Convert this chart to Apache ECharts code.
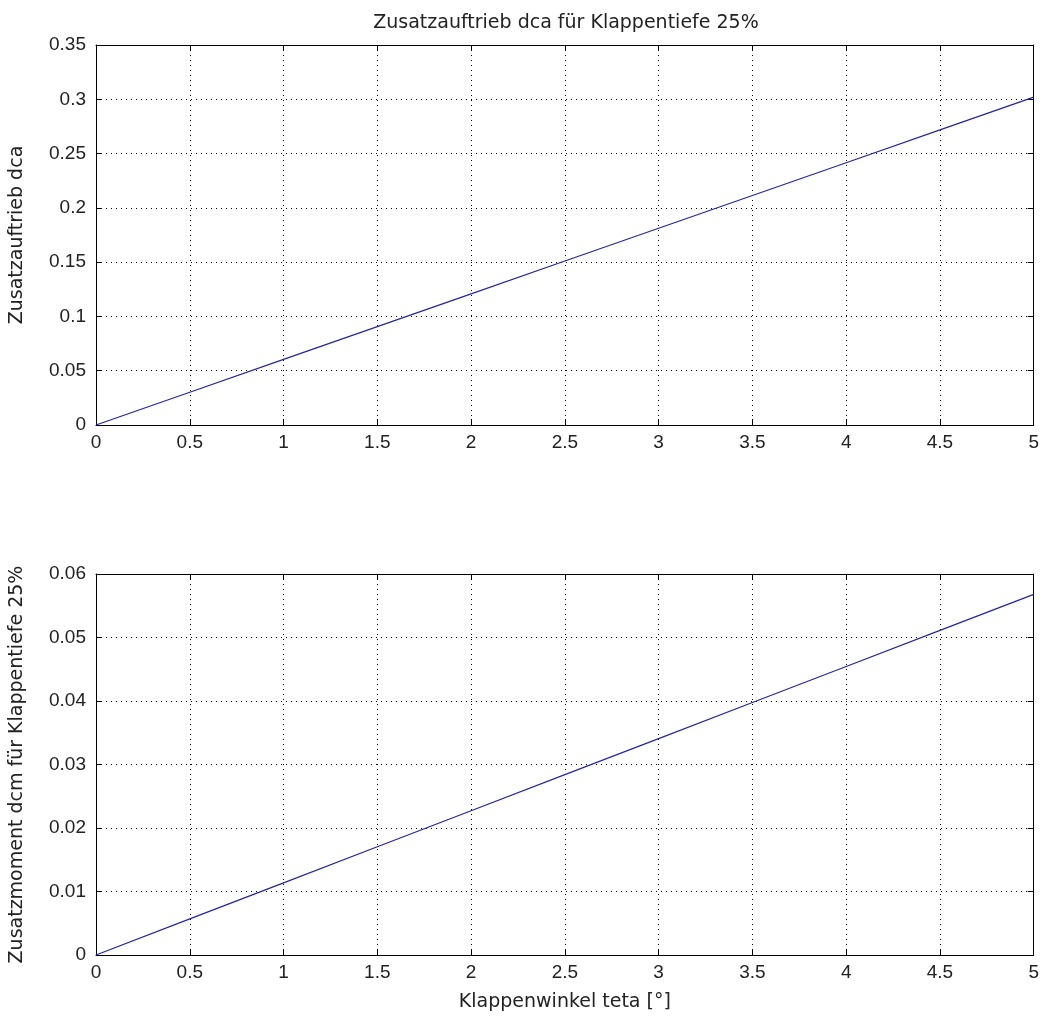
<!DOCTYPE html>
<html>
<head>
<meta charset="utf-8">
<script src="https://cdn.jsdelivr.net/npm/echarts@6/dist/echarts.min.js"></script>
<style>html,body{margin:0;padding:0;background:#fff;}#c{width:1042px;height:1016px;}</style>
</head>
<body>
<div id="c"></div>
<script>
const theta = [0, 0.5, 1, 1.5, 2, 2.5, 3, 3.5, 4, 4.5, 5];
const dca = [0, 0.0302, 0.0604, 0.0906, 0.1208, 0.151, 0.1812, 0.2114, 0.2416, 0.2718, 0.302];
const dcm = [0, 0.00568, 0.01136, 0.01704, 0.02272, 0.0284, 0.03408, 0.03976, 0.04544, 0.05112, 0.0568];
const titleText = 'Zusatzauftrieb dca für Klappentiefe 25%';
const yLabelTop = 'Zusatzauftrieb dca';
const yLabelBottom = 'Zusatzmoment dcm für Klappentiefe 25%';
const xLabel = 'Klappenwinkel teta [°]';

const tickTxt = {color: '#222', fontFamily: 'Liberation Sans', fontSize: 19};
const nameTxt = {color: '#222', fontFamily: 'DejaVu Sans', fontSize: 19};
const lineCol = '#000';

function xAxes(gi) {
  return [
    {type: 'value', gridIndex: gi, min: 0, max: 5, interval: 0.5, position: 'bottom',
     axisLine: {onZero: false, lineStyle: {color: lineCol}},
     axisTick: {inside: true, length: 6, lineStyle: {color: lineCol}},
     axisLabel: Object.assign({margin: 8}, tickTxt),
     splitLine: {show: true, lineStyle: {color: '#000', type: [1, 4], width: 1}},
     name: gi === 1 ? xLabel : '', nameLocation: 'middle', nameGap: 38,
     nameTextStyle: nameTxt},
    {type: 'value', gridIndex: gi, min: 0, max: 5, interval: 0.5, position: 'top',
     axisLine: {onZero: false, lineStyle: {color: lineCol}},
     axisTick: {inside: true, length: 6, lineStyle: {color: lineCol}},
     axisLabel: {show: false}, splitLine: {show: false}}
  ];
}
function yAxes(gi, max, interval, name) {
  return [
    {type: 'value', gridIndex: gi, min: 0, max: max, interval: interval, position: 'left',
     axisLine: {onZero: false, lineStyle: {color: lineCol}},
     axisTick: {inside: true, length: 6, lineStyle: {color: lineCol}},
     axisLabel: Object.assign({margin: 10}, tickTxt),
     splitLine: {show: true, lineStyle: {color: '#000', type: [1, 4], width: 1}},
     name: name, nameLocation: 'middle', nameGap: 69, nameTextStyle: nameTxt},
    {type: 'value', gridIndex: gi, min: 0, max: max, interval: interval, position: 'right',
     axisLine: {onZero: false, lineStyle: {color: lineCol}},
     axisTick: {inside: true, length: 6, lineStyle: {color: lineCol}},
     axisLabel: {show: false}, splitLine: {show: false}}
  ];
}

const chart = echarts.init(document.getElementById('c'), null, {renderer: 'canvas'});
chart.setOption({
  backgroundColor: '#fff',
  animation: false,
  title: {text: titleText, left: 561, top: 9, textAlign: 'center',
          textStyle: {color: '#222', fontFamily: 'DejaVu Sans', fontSize: 19, fontWeight: 'normal'}},
  grid: [
    {left: 96, top: 45, width: 938, height: 380},
    {left: 96, top: 574, width: 938, height: 381}
  ],
  xAxis: xAxes(0).concat(xAxes(1)),
  yAxis: yAxes(0, 0.35, 0.05, yLabelTop).concat(yAxes(1, 0.06, 0.01, yLabelBottom)),
  series: [
    {type: 'line', xAxisIndex: 0, yAxisIndex: 0, data: theta.map((t, i) => [t, dca[i]]),
     showSymbol: false, lineStyle: {color: '#2424a8', width: 1.2}},
    {type: 'line', xAxisIndex: 2, yAxisIndex: 2, data: theta.map((t, i) => [t, dcm[i]]),
     showSymbol: false, lineStyle: {color: '#2424a8', width: 1.2}}
  ]
});
</script>
</body>
</html>
